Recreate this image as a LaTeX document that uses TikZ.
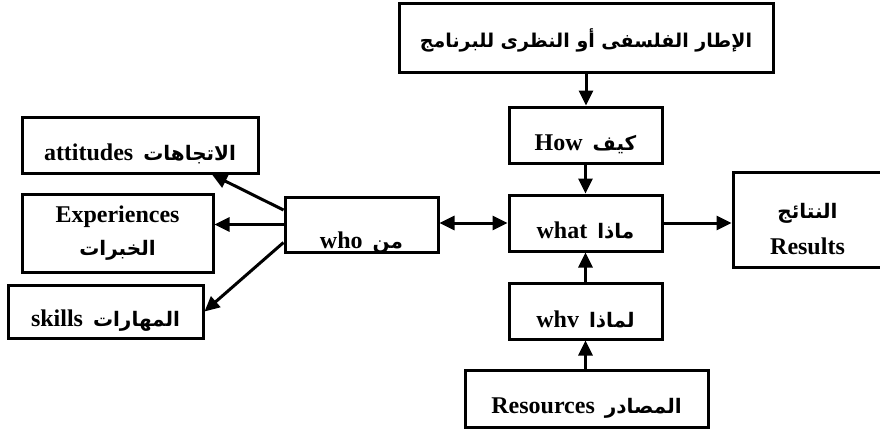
\documentclass[tikz,border=0pt]{standalone}
\usepackage{fontspec}
\setmainfont{Liberation Serif}
\newfontfamily\arfont[Script=Arabic]{DejaVu Sans}
\TeXXeTstate=1
\usetikzlibrary{arrows.meta}
\newcommand{\AR}[1]{{\arfont\bfseries\fontsize{20}{24}\selectfont\beginR #1\endR}}
\newcommand{\ARtop}[1]{{\arfont\bfseries\fontsize{19}{23}\selectfont\beginR #1\endR}}
\newcommand{\gapw}{\hspace{10pt}}
\begin{document}
\begin{tikzpicture}[x=1pt,y=-1pt,
  box/.style={draw, line width=3pt, inner sep=0pt, font=\fontsize{24}{28}\selectfont\bfseries},
  arr/.style={line width=3pt, -{Triangle[length=15pt,width=14pt]}},
  darr/.style={line width=3pt, {Triangle[length=15pt,width=14pt]}-{Triangle[length=15pt,width=14pt]}}]
\useasboundingbox (0,0) rectangle (880,429);
% boxes
\node[box, minimum width=374pt, minimum height=69pt, text height=20pt, text depth=0pt] (top) at (586,37.5) {\ARtop{الإطار الفلسفى أو النظرى للبرنامج}};
\node[box, minimum width=153pt, minimum height=56pt, text height=30pt, text depth=0pt] (how) at (585.5,135) {How\gapw\AR{كيف}};
\node[box, minimum width=153pt, minimum height=56pt, text height=30pt, text depth=0pt] (what) at (585.5,223) {what\gapw\AR{ماذا}};
\node[box, minimum width=153pt, minimum height=56pt, text height=32pt, text depth=0pt] (why) at (585.5,311) {whv\gapw\AR{لماذا}};
\node[box, minimum width=243pt, minimum height=57pt, text height=29pt, text depth=0pt] (res) at (586.5,398.5) {Resources\gapw\AR{المصادر}};
\node[box, minimum width=149pt, minimum height=95pt, text height=70pt, text depth=0pt, align=center] (results) at (807.5,219.5) {\AR{النتائج}\\[8pt]Results};
\node[box, minimum width=153pt, minimum height=55pt, text height=47pt, text depth=0pt] (who) at (361.5,224.5) {who\gapw\AR{من}};
\node[box, minimum width=236pt, minimum height=56pt, text height=30pt, text depth=0pt] (att) at (140,145) {attitudes\gapw\AR{الاتجاهات}};
\node[box, minimum width=191pt, minimum height=78pt, align=center] (exp) at (117.5,233) {Experiences\\[5pt]\AR{الخبرات}};
\node[box, minimum width=195pt, minimum height=53pt, text height=30pt, text depth=0pt] (skills) at (105.5,311.5) {skills\gapw\AR{المهارات}};
% connectors
\draw[arr] (top.south) -- (top.south |- how.north);
\draw[arr] (how.south) -- (what.north);
\draw[arr] (why.north) -- (what.south);
\draw[arr] (res.north -| why.south) -- (why.south);
\draw[arr] (what.east) -- (what.east -| results.west);
\draw[darr] (what.west -| who.east) -- (what.west);
\draw[arr] ([yshift=14.5pt]who.west) -- ([xshift=72pt]att.south);
\draw[arr] (who.west) -- (who.west -| exp.east);
\draw[arr] ([yshift=-18pt]who.west) -- (skills.east);
\end{tikzpicture}
\end{document}
